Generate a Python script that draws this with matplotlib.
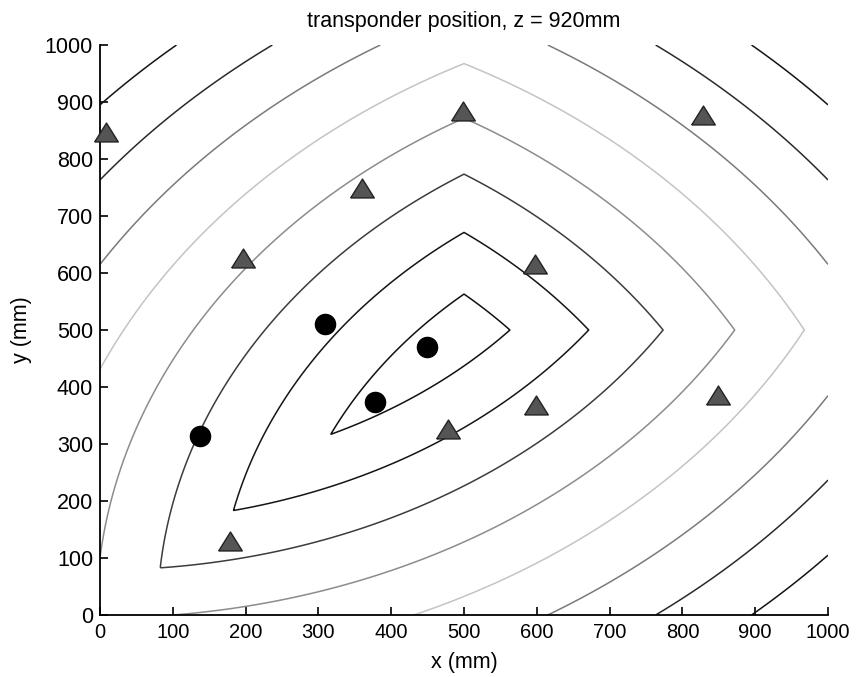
import numpy as np
import matplotlib
matplotlib.use("Agg")
import matplotlib.pyplot as plt

plt.rcParams['font.family'] = ['Liberation Sans', 'DejaVu Sans']

# Receiver (antenna) positions that define the contour field (mm)
RECEIVER_X = [0, 0, 1000]
RECEIVER_Y = [0, 1000, 0]

# Contour levels (max horizontal distance, mm) and their grey tones
LEVELS = [753, 837, 921, 1005, 1089, 1174, 1258, 1342]
LEVEL_COLORS = ['#111111', '#151515', '#3c3c3c', '#8c8c8c',
                '#c4c4c4', '#7a7a7a', '#2a2a2a', '#141414']

# Triangle markers (mm)
TRI_X = [8, 499, 828, 360, 196, 598, 599, 849, 478, 179]
TRI_Y = [848, 885, 878, 749, 626, 616, 369, 386, 326, 129]

# Circle markers (mm)
CIRC_X = [309, 449, 378, 137]
CIRC_Y = [511, 471, 374, 314]

TICKS = list(range(0, 1001, 100))

fig = plt.figure(figsize=(8.57, 6.77), dpi=100)
ax = fig.add_axes([0.1167, 0.0916, 0.8495, 0.8419])

gx = np.linspace(0, 1000, 801)
gy = np.linspace(0, 1000, 801)
X, Y = np.meshgrid(gx, gy)
D = np.zeros_like(X)
for rx, ry in zip(RECEIVER_X, RECEIVER_Y):
    D = np.maximum(D, np.hypot(X - rx, Y - ry))

ax.contour(X, Y, D, levels=LEVELS, colors=LEVEL_COLORS, linewidths=1.1)

tri_marker = [(-1.25, -1.0), (1.25, -1.0), (0.0, 1.0), (-1.25, -1.0)]
ax.plot(TRI_X, TRI_Y, linestyle='none', marker=tri_marker, markersize=17,
        markerfacecolor='#555555', markeredgecolor='#222222', markeredgewidth=1.0,
        clip_on=False, zorder=3)
ax.plot(CIRC_X, CIRC_Y, linestyle='none', marker='o', markersize=14.5,
        markerfacecolor='#000000', markeredgecolor='#000000', zorder=3)

ax.set_xlim(0, 1000)
ax.set_ylim(0, 1000)
ax.set_xticks(TICKS)
ax.set_yticks(TICKS)
ax.spines['top'].set_visible(False)
ax.spines['right'].set_visible(False)
ax.spines['left'].set_linewidth(1.3)
ax.spines['bottom'].set_linewidth(1.3)
ax.tick_params(direction='in', length=6, width=1.2,
               top=False, right=False)
ax.tick_params(axis='x', labelsize=14.5, pad=6)
ax.tick_params(axis='y', labelsize=15.5, pad=5)

ax.set_xlabel('x (mm)', fontsize=15.5, labelpad=7)
ax.set_ylabel('y (mm)', fontsize=15.5, labelpad=9)
ax.set_title('transponder position, z = 920mm', fontsize=15.5, pad=13)

fig.savefig('out.png', dpi=100)
